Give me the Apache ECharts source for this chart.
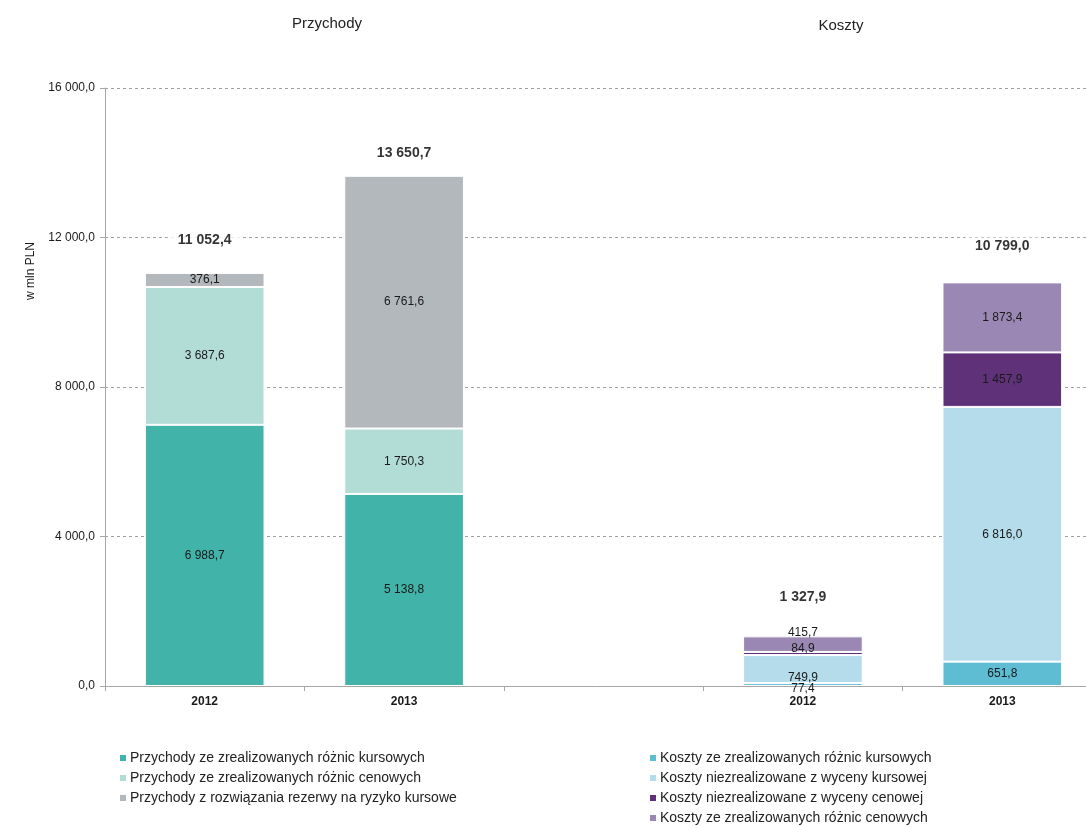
<!DOCTYPE html>
<html>
<head>
<meta charset="utf-8">
<script src="https://cdn.jsdelivr.net/npm/echarts@6/dist/echarts.min.js"></script>
<style>
  html, body { margin: 0; padding: 0; background: #fff; }
  #chart { width: 1086px; height: 828px; }
</style>
</head>
<body>
<div id="chart"></div>
<script>
// Categories: revenue group (2012, 2013), an empty spacer slot, cost group (2012, 2013)
const categories = ['2012', '2013', '', '2012', '2013'];

// Revenue components (mln PLN)
const przychodyKursowe = [6988.7, 5138.8, '-', '-', '-'];
const przychodyCenowe = [3687.6, 1750.3, '-', '-', '-'];
const przychodyRezerwa = [376.1, 6761.6, '-', '-', '-'];

// Cost components (mln PLN)
const kosztyKursowe = ['-', '-', '-', 77.4, 651.8];
const kosztyNiezrKursowe = ['-', '-', '-', 749.9, 6816.0];
const kosztyNiezrCenowe = ['-', '-', '-', 84.9, 1457.9];
const kosztyCenowe = ['-', '-', '-', 415.7, 1873.4];

// Stack totals shown above each column
const totals = [11052.4, 13650.7, '-', 1327.9, 10799.0];

// Axis ticks
const yTicks = [0, 4000, 8000, 12000, 16000];

function fmt(v) {
  const s = Number(v).toFixed(1).split('.');
  const int = s[0].replace(/\B(?=(\d{3})+(?!\d))/g, ' ');
  return int + ',' + s[1];
}

// Small cost slices get nudged labels so they do not overlap
const labelNudge = {
  k1: { 3: 4 },
  k2: { 3: 9 },
  k3: { 3: -5 },
  k4: { 3: -11 }
};

// Vertical lift of each total label above its column top (px)
const totalLift = [33, 23, 0, 39, 36];

function withNudge(arr, key) {
  return arr.map((v, i) => {
    const n = labelNudge[key] && labelNudge[key][i];
    if (n === undefined || v === '-') return v;
    return { value: v, label: { offset: [0, n] } };
  });
}

const FONT = '"Liberation Sans", Arial, sans-serif';

const segLabel = {
  show: true,
  position: 'inside',
  color: '#1a1a1a',
  fontSize: 12,
  fontFamily: FONT,
  formatter: p => fmt(p.value)
};

function barSeries(name, data, color) {
  return {
    name: name,
    type: 'bar',
    stack: 'total',
    barWidth: '60%',
    data: data,
    itemStyle: { color: color, borderColor: '#ffffff', borderWidth: 1 },
    label: segLabel,
    emphasis: { disabled: true }
  };
}

const chart = echarts.init(document.getElementById('chart'), null, { renderer: 'canvas' });

const namesP = [
  'Przychody ze zrealizowanych różnic kursowych',
  'Przychody ze zrealizowanych różnic cenowych',
  'Przychody z rozwiązania rezerwy na ryzyko kursowe'
];
const namesK = [
  'Koszty ze zrealizowanych różnic kursowych',
  'Koszty niezrealizowane z wyceny kursowej',
  'Koszty niezrealizowane z wyceny cenowej',
  'Koszty ze zrealizowanych różnic cenowych'
];

const legendCommon = {
  orient: 'vertical',
  icon: 'rect',
  itemWidth: 8,
  itemHeight: 8,
  itemGap: 6,
  height: 100,
  padding: 0,
  textStyle: { fontSize: 14, color: '#222', fontFamily: FONT, padding: [0, 0, 0, -2] },
  selectedMode: false
};

chart.setOption({
  animation: false,
  backgroundColor: '#ffffff',
  textStyle: { fontFamily: FONT },
  title: [
    { text: 'Przychody', left: 322, top: 11, textAlign: 'center',
      textStyle: { fontSize: 15, fontWeight: 'normal', color: '#222', fontFamily: FONT } },
    { text: 'Koszty', left: 836, top: 13, textAlign: 'center',
      textStyle: { fontSize: 15, fontWeight: 'normal', color: '#222', fontFamily: FONT } }
  ],
  legend: [
    Object.assign({ data: namesP, left: 118, top: 751 }, legendCommon),
    Object.assign({ data: namesK, left: 648, top: 751 }, legendCommon)
  ],
  // the last category slot runs past the right edge of the canvas
  grid: { left: 105, width: 997, top: 88, height: 598, containLabel: false, outerBoundsMode: 'none' },
  xAxis: {
    type: 'category',
    data: categories,
    axisLine: { lineStyle: { color: '#a6a6a6', width: 1 } },
    axisTick: { show: true, length: 5, lineStyle: { color: '#a6a6a6' } },
    axisLabel: { color: '#1a1a1a', fontSize: 12, fontWeight: 'bold', margin: 10, fontFamily: FONT }
  },
  yAxis: {
    type: 'value',
    min: yTicks[0],
    max: yTicks[yTicks.length - 1],
    interval: yTicks[1] - yTicks[0],
    axisLine: { show: true, lineStyle: { color: '#a6a6a6' } },
    axisTick: { show: true, length: 5, lineStyle: { color: '#a6a6a6' } },
    axisLabel: { color: '#1a1a1a', fontSize: 12, margin: 10, fontFamily: FONT, formatter: v => fmt(v) },
    splitLine: { show: true, lineStyle: { color: '#a0a0a0', type: [3, 3], width: 1 } }
  },
  graphic: [
    {
      type: 'text',
      left: 25,
      top: 242,
      rotation: Math.PI / 2,
      style: { text: 'w mln PLN', fontSize: 12, fill: '#1a1a1a', fontFamily: FONT }
    }
  ],
  series: [
    barSeries(namesP[0], przychodyKursowe, '#41b3a9'),
    barSeries(namesP[1], przychodyCenowe, '#b2ddd7'),
    barSeries(namesP[2], przychodyRezerwa, '#b3b8bc'),
    barSeries(namesK[0], withNudge(kosztyKursowe, 'k1'), '#5fbdd3'),
    barSeries(namesK[1], withNudge(kosztyNiezrKursowe, 'k2'), '#b5dcea'),
    barSeries(namesK[2], withNudge(kosztyNiezrCenowe, 'k3'), '#5e3178'),
    barSeries(namesK[3], withNudge(kosztyCenowe, 'k4'), '#9b87b4'),
    {
      name: 'Suma',
      type: 'scatter',
      data: totals.map((v, i) => v === '-' ? v : { value: v, label: { offset: [0, -totalLift[i]] } }),
      symbolSize: 1,
      itemStyle: { color: 'rgba(0,0,0,0)' },
      z: 5,
      label: {
        show: true,
        position: 'inside',
        color: '#000',
        fontSize: 14,
        fontWeight: 'bold',
        fontFamily: FONT,
        backgroundColor: '#ffffff',
        padding: [2, 10],
        formatter: p => fmt(p.value)
      },
      emphasis: { disabled: true },
      silent: true
    }
  ]
});
</script>
</body>
</html>
